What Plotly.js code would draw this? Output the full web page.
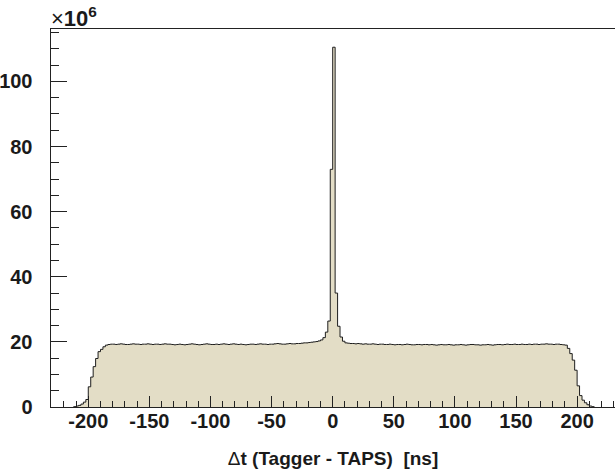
<!DOCTYPE html>
<html>
<head>
<meta charset="utf-8">
<script src="https://cdn.plot.ly/plotly-3.0.1.min.js"></script>
<style>html,body{margin:0;padding:0;background:#fff;}#plot{width:615px;height:469px;}</style>
</head>
<body>
<div id="plot"></div>
<script>
// Histogram definition (bin width 2 ns, first bin starts at -212 ns), counts in units of 10^6
const binStart = -212;
const binWidth = 2;
const leftEdgeCounts = [0.1, 0.3, 0.5, 0.9, 1.5, 2.3, 6.2, 9.2, 12.4, 14.9, 17.0, 17.7, 18.5, 19.0];
const leftPlateauCounts = [
  19.2, 19.3, 19.3, 19.2, 19.3, 19.4, 19.3, 19.2, 19.2, 19.3, 19.4, 19.3, 19.3, 19.2, 19.3, 19.3, 19.4, 19.3, 19.2, 19.3, 19.3, 19.2, 19.3, 19.4, 19.3, 19.3,
  19.2, 19.1, 19.2, 19.3, 19.2, 19.1, 19.2, 19.3, 19.4, 19.3, 19.2, 19.1, 19.2, 19.3, 19.4, 19.3, 19.2, 19.2, 19.3, 19.2, 19.3, 19.4, 19.3, 19.2, 19.3, 19.4,
  19.3, 19.2, 19.3, 19.2, 19.1, 19.2, 19.3, 19.3, 19.2, 19.3, 19.4, 19.3, 19.3, 19.2, 19.3, 19.3, 19.4, 19.5, 19.4, 19.3, 19.3, 19.4, 19.5, 19.4, 19.4,
  19.5, 19.5, 19.6, 19.7, 19.7, 19.8, 19.9, 20.0, 20.1, 20.3, 20.6
];
const peakCounts = [21.3, 23.0, 26.4, 73.0, 110.5, 35.0, 24.8, 21.5, 20.2, 19.7];
const rightPlateauCounts = [
  19.6, 19.5, 19.5, 19.4, 19.5, 19.4, 19.3, 19.4, 19.3, 19.3, 19.4, 19.3, 19.2, 19.3,
  19.3, 19.2, 19.2, 19.3, 19.2, 19.1, 19.2, 19.2, 19.1, 19.2, 19.3, 19.2, 19.1, 19.1, 19.2, 19.2, 19.1, 19.2, 19.2, 19.1,
  19.2, 19.1, 19.0, 19.1, 19.2, 19.1, 19.1, 19.2, 19.1, 19.0, 19.1, 19.1, 19.2, 19.1, 19.0, 19.1, 19.2, 19.2, 19.1, 19.1,
  19.0, 19.1, 19.1, 19.2, 19.1, 19.0, 19.1, 19.2, 19.2, 19.1, 19.2, 19.3, 19.2, 19.2, 19.3, 19.2, 19.2, 19.3, 19.2, 19.2,
  19.3, 19.2, 19.3, 19.3, 19.2, 19.3, 19.3, 19.4, 19.3, 19.3, 19.2, 19.3, 19.3, 19.2, 19.1
];
const rightEdgeCounts = [19.0, 18.0, 16.4, 14.4, 11.3, 6.5, 3.5, 2.1, 1.3, 0.7, 0.3, 0.1];
const xTickVals = [-200, -150, -100, -50, 0, 50, 100, 150, 200];
const yTickVals = [0, 20, 40, 60, 80, 100];

const counts = [].concat(leftEdgeCounts, leftPlateauCounts, peakCounts, rightPlateauCounts, rightEdgeCounts);
const edges = [];
const ys = [];
for (let i = 0; i < counts.length; i++) { edges.push(binStart + i * binWidth); ys.push(counts[i]); }
edges.push(binStart + counts.length * binWidth); ys.push(counts[counts.length - 1]);
const xs = [edges[0]].concat(edges, [edges[edges.length - 1]]);
const yv = [0].concat(ys, [0]);

const tickFont = {family: 'Liberation Sans, Arial, sans-serif', size: 20, color: '#1a1a1a', weight: 'bold'};

const trace = {
  type: 'scatter', mode: 'lines', x: xs, y: yv,
  line: {shape: 'hv', color: '#1e1e1e', width: 1},
  fill: 'tozeroy', fillcolor: '#e3ddc6',
  hoverinfo: 'skip', showlegend: false
};

const layout = {
  width: 615, height: 469,
  margin: {l: 51, r: 0, t: 29, b: 62, pad: 0},
  paper_bgcolor: '#ffffff', plot_bgcolor: '#ffffff',
  showlegend: false,
  xaxis: {
    range: [-230.5, 231], showgrid: false, zeroline: false,
    showline: true, linecolor: '#222', linewidth: 1, mirror: true,
    tickmode: 'array', tickvals: xTickVals, ticktext: xTickVals.map(String),
    ticks: 'inside', ticklen: 11, tickwidth: 1, tickcolor: '#222',
    minor: {ticks: 'inside', ticklen: 6, dtick: 10, tick0: 0, tickcolor: '#222', tickwidth: 1, showgrid: false},
    tickfont: tickFont, ticklabelstandoff: -4,
    title: {text: 'Δ<b>t (Tagger - TAPS)\u00a0 [ns]</b>', font: {family: 'Liberation Sans, Arial, sans-serif', size: 19, color: '#1a1a1a'}, standoff: 21}
  },
  yaxis: {
    range: [0, 116.1], showgrid: false, zeroline: false,
    showline: true, linecolor: '#222', linewidth: 1.5, mirror: false,
    tickmode: 'array', tickvals: yTickVals, ticktext: yTickVals.map(String),
    ticks: 'inside', ticklen: 16, tickwidth: 1, tickcolor: '#222',
    minor: {ticks: 'inside', ticklen: 8, dtick: 5, tick0: 0, tickcolor: '#222', tickwidth: 1, showgrid: false},
    tickfont: tickFont, ticklabelstandoff: 13
  },
  annotations: [{
    xref: 'paper', yref: 'paper', x: 0, y: 1, xanchor: 'left', yanchor: 'bottom',
    text: '×<b>10<sup>6</sup></b>', showarrow: false,
    font: {family: 'Liberation Sans, Arial, sans-serif', size: 22, color: '#1a1a1a'},
    xshift: -2, yshift: -4
  }]
};

Plotly.newPlot('plot', [trace], layout, {staticPlot: true, displayModeBar: false});
</script>
</body>
</html>
